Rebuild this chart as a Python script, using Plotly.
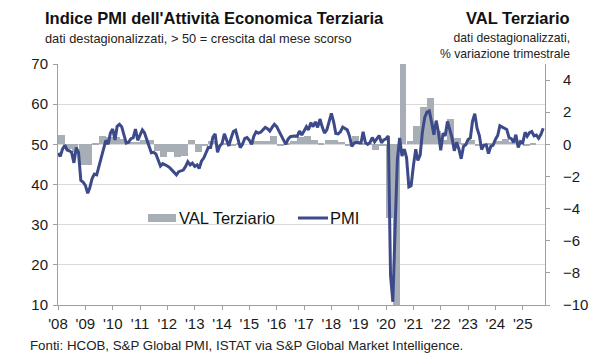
import plotly.graph_objects as go
import pandas as pd

# ---------------- data ----------------
pmi_start = "2008-01-01"
pmi = [
    # 2008
    47.8, 47.0, 48.8, 49.8, 48.6, 48.4, 48.0, 45.4, 49.2, 48.0, 41.0, 40.6,
    # 2009
    39.8, 37.8, 39.2, 41.5, 42.6, 42.4, 44.5, 46.5, 49.0, 51.0, 50.0, 52.8,
    # 2010
    53.8, 51.1, 54.5, 55.0, 54.4, 52.5, 50.3, 50.5, 51.4, 51.6, 53.8, 51.0,
    # 2011
    52.4, 53.6, 52.9, 51.0, 49.6, 47.9, 48.0, 47.6, 46.2, 44.6, 45.2, 45.0,
    # 2012
    44.6, 44.2, 43.6, 42.8, 42.4, 43.2, 43.4, 43.6, 44.5, 45.7, 44.9, 45.3,
    # 2013
    44.5, 44.9, 44.0, 45.8, 46.6, 47.8, 49.2, 49.2, 51.8, 52.6, 48.0, 49.6,
    # 2014
    50.2, 52.6, 51.1, 49.6, 51.5, 53.2, 53.5, 51.2, 49.2, 50.0, 51.5, 51.7,
    # 2015
    51.0, 50.0, 52.0, 53.1, 52.8, 53.0, 53.5, 54.2, 53.9, 53.3, 54.2, 55.0,
    # 2016
    54.4, 53.2, 52.1, 51.0, 50.0, 51.3, 51.9, 52.0, 52.1, 52.0, 53.3, 52.3,
    # 2017
    53.3, 54.4, 53.6, 55.4, 54.4, 55.6, 54.2, 56.3, 54.3, 52.8, 53.6, 55.5,
    # 2018
    57.7, 55.5, 52.7, 52.6, 53.1, 54.3, 54.0, 53.6, 52.0, 49.5, 50.3, 50.5,
    # 2019
    50.4, 50.4, 53.1, 50.4, 50.0, 50.5, 51.7, 50.6, 51.4, 52.2, 50.4, 51.1,
    # 2020
    51.4, 52.1, 17.4, 10.8, 28.9, 46.4, 51.6, 47.1, 48.8, 46.7, 39.4, 39.7,
    # 2021
    44.7, 48.8, 46.0, 47.3, 53.1, 56.7, 58.0, 58.3, 55.5, 52.4, 55.9, 53.0,
    # 2022
    48.5, 52.8, 52.1, 55.7, 53.7, 51.6, 48.4, 50.5, 48.8, 46.4, 49.5, 49.9,
    # 2023
    51.2, 51.6, 55.7, 57.6, 54.0, 52.2, 48.7, 49.8, 49.9, 47.7, 49.5, 49.8,
    # 2024
    51.2, 52.2, 54.6, 54.3, 54.2, 53.7, 51.7, 51.4, 50.5, 52.4, 49.2, 50.7,
    # 2025
    50.4, 53.0, 52.0, 52.9, 53.2, 52.1, 52.3, 51.5, 52.5, 54.0,
]

val_start = "2008-01-01"
val_terziario = [
    # 2008
    0.6, -0.3, -0.5, -1.3,
    # 2009
    -1.3, 0.05, 0.5, 0.45,
    # 2010
    0.45, 0.35, 0.15, 0.15,
    # 2011
    0.3, 0.3, -0.4, -0.8,
    # 2012
    -0.5, -0.8, -0.7, 0.25,
    # 2013
    -0.5, -0.1, 0.2, 0.0,
    # 2014
    0.05, -0.05, 0.05, 0.0,
    # 2015
    0.2, 0.2, 0.2, 0.5,
    # 2016
    -0.1, 0.1, 0.2, 0.45,
    # 2017
    0.55, 0.25, 0.05, 0.3,
    # 2018
    0.3, 0.15, -0.1, 0.5,
    # 2019
    0.1, 0.1, -0.35, -0.1,
    # 2020
    -4.6, -12.5, 14.0, 0.2,
    # 2021
    1.15, 2.3, 2.9, 0.8,
    # 2022
    0.3, 1.6, 0.4, 0.1,
    # 2023
    0.3, -0.05, -0.05, 0.1,
    # 2024
    0.2, 0.35, 0.15, 0.1,
    # 2025
    -0.05, 0.05,
]

year_ticks = list(range(2008, 2026))
year_labels = ["'" + str(y)[2:] for y in year_ticks]

left_ticks = [10, 20, 30, 40, 50, 60, 70]
right_ticks = [-10, -8, -6, -4, -2, 0, 2, 4]

# ---------------- build ----------------
pmi_dates = pd.date_range(pmi_start, periods=len(pmi), freq="MS")
val_dates = pd.date_range(val_start, periods=len(val_terziario), freq="QS")

BAR_COL = "#A7AEB5"
LINE_COL = "#3C4A8A"
AXIS_COL = "#A0A0A0"
GRID_COL = "#DADADA"
FONT = "Liberation Sans, Arial, sans-serif"

LEFT_RANGE = [10, 70]
RIGHT_RANGE = [-10, 5]


def left_to_right(v):
    # map a left-axis value onto the right axis (50 <-> 0)
    span_l = LEFT_RANGE[1] - LEFT_RANGE[0]
    span_r = RIGHT_RANGE[1] - RIGHT_RANGE[0]
    return RIGHT_RANGE[0] + (v - LEFT_RANGE[0]) * span_r / span_l


fig = go.Figure()

quarter_ms = 91.3 * 24 * 3600 * 1000
fig.add_trace(go.Bar(
    x=val_dates, y=val_terziario, yaxis="y",
    marker=dict(color=BAR_COL, line=dict(width=0)),
    width=quarter_ms, offset=0, name="VAL Terziario", showlegend=False,
))
fig.add_trace(go.Scatter(
    x=pmi_dates, y=pmi, yaxis="y2", mode="lines",
    line=dict(color=LINE_COL, width=3), name="PMI", showlegend=False,
))

L, R, T, B = 58, 55, 64, 55
W, H = 600, 360
pw = W - L - R
ph = H - T - B


def px(x):
    return (x - L) / pw


def py(y):
    return (H - B - y) / ph


fig.update_layout(
    width=W, height=H, autosize=False,
    margin=dict(l=L, r=R, t=T, b=B, pad=0),
    paper_bgcolor="white", plot_bgcolor="white",
    font=dict(family=FONT, color="#1a1a1a", size=13),
    bargap=0,
    xaxis=dict(
        type="date", range=["2008-01-01", "2025-10-25"],
        tickvals=[f"{y}-01-01" for y in year_ticks], ticktext=year_labels,
        ticks="outside", ticklen=4, tickcolor=AXIS_COL, tickwidth=1,
        showline=True, linecolor=AXIS_COL, linewidth=1,
        showgrid=False, zeroline=False,
        tickfont=dict(size=15, color="#1a1a1a"), ticklabelstandoff=1,
    ),
    yaxis=dict(
        side="right", range=RIGHT_RANGE, tickvals=right_ticks,
        ticks="outside", ticklen=4, tickcolor=AXIS_COL,
        showline=True, linecolor=AXIS_COL, linewidth=1,
        showgrid=False, zeroline=False,
        minor=dict(tickvals=[left_to_right(v) for v in left_ticks],
                   showgrid=True, gridcolor=GRID_COL, gridwidth=1, ticks=""),
        tickfont=dict(size=15, color="#1a1a1a"), ticklabelstandoff=10,
    ),
    yaxis2=dict(
        side="left", overlaying="y", range=LEFT_RANGE, tickvals=left_ticks,
        ticks="outside", ticklen=4, tickcolor=AXIS_COL,
        showline=True, linecolor=AXIS_COL, linewidth=1,
        showgrid=False, zeroline=False,
        tickfont=dict(size=15, color="#1a1a1a"), ticklabelstandoff=2,
    ),
)

ann = []
ann.append(dict(text="<b>Indice PMI dell'Attività Economica Terziaria</b>",
                x=px(43), y=py(29), xanchor="left", yanchor="bottom",
                font=dict(size=16.5, color="#111111")))
ann.append(dict(text="dati destagionalizzati, > 50 = crescita dal mese scorso",
                x=px(43), y=py(29), xanchor="left", yanchor="top",
                font=dict(size=12.8, color="#222222")))
ann.append(dict(text="<b>VAL Terziario</b>",
                x=px(572), y=py(29), xanchor="right", yanchor="bottom",
                font=dict(size=16.5, color="#111111")))
ann.append(dict(text="dati destagionalizzati,<br>% variazione trimestrale",
                x=px(572), y=py(29), xanchor="right", yanchor="top", align="right",
                font=dict(size=12.2, color="#222222")))
ann.append(dict(text="Fonti: HCOB, S&P Global PMI, ISTAT via S&P Global Market Intelligence.",
                x=px(28), y=py(345), xanchor="left", yanchor="middle",
                font=dict(size=13.3, color="#222222")))
# legend
ann.append(dict(text="VAL Terziario", x=px(177), y=py(218), xanchor="left", yanchor="middle",
                font=dict(size=16.5, color="#111111")))
ann.append(dict(text="PMI", x=px(328), y=py(218), xanchor="left", yanchor="middle",
                font=dict(size=16.5, color="#111111")))
for a in ann:
    a.update(xref="paper", yref="paper", showarrow=False)
fig.update_layout(annotations=ann)

fig.update_layout(shapes=[
    dict(type="rect", xref="paper", yref="paper", x0=px(148), x1=px(176),
         y0=py(222), y1=py(214), fillcolor=BAR_COL, line=dict(width=0), layer="above"),
    dict(type="line", xref="paper", yref="paper", x0=px(298), x1=px(328),
         y0=py(218), y1=py(218), line=dict(color=LINE_COL, width=3), layer="above"),
])

fig.write_html("out.html", config={"displayModeBar": False},
               post_script="document.body.style.margin='0px';")
